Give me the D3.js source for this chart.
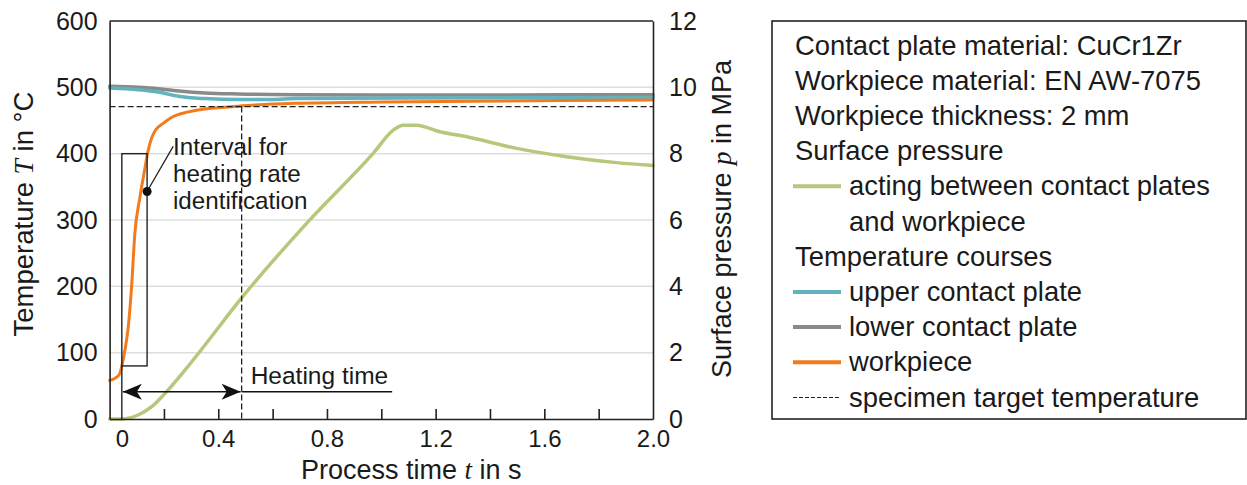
<!DOCTYPE html>
<html lang="en">
<head>
<meta charset="UTF-8">
<title>Heating process</title>
<script src="https://cdn.jsdelivr.net/npm/d3@7"></script>
<style>
  body { margin: 0; background: #fff; }
  svg { font-family: "Liberation Sans", Arial, sans-serif; fill: #1a1a1a; }
  .grid line { stroke: #dedede; stroke-width: 1.5px; }
  .curve { fill: none; stroke-linejoin: round; stroke-linecap: round; }
  .axis path { stroke: #222; stroke-width: 1.6px; }
  .axis line { stroke: #222; stroke-width: 1.6px; }
  .axis text { fill: #1a1a1a; font-family: "Liberation Sans", Arial, sans-serif; }
  .var { font-family: "Liberation Serif", serif; font-style: italic; }
</style>
</head>
<body>
<svg width="1247" height="485"></svg>
<script>
// process time in s (axis coordinates), temperatures in °C, pressure in MPa
var tWork   = [0, 0.026, 0.038, 0.045, 0.057, 0.069, 0.081, 0.093, 0.111, 0.130, 0.142, 0.155, 0.170, 0.198, 0.229, 0.290, 0.351, 0.474, 0.597, 0.682, 1.014, 1.658, 2.0];
var workpiece = [58, 63, 69, 80, 105, 140, 200, 280, 333, 378, 405, 424, 436, 446, 455, 463, 467.5, 471.5, 475, 476, 478, 480, 481];

var tUpper = [0, 0.106, 0.179, 0.253, 0.351, 0.474, 0.597, 0.682, 1.07, 2.0];
var upperPlate = [499, 496.5, 493, 486.5, 483, 481.5, 481.5, 483, 484, 484.5];

var tLower = [0, 0.106, 0.179, 0.265, 0.351, 0.474, 0.682, 1.2, 2.0];
var lowerPlate = [501.5, 500, 498, 494, 491.5, 490, 489, 488.5, 489];

var tPress = [0, 0.045, 0.105, 0.155, 0.198, 0.278, 0.351, 0.48, 0.725, 0.97, 1.044, 1.08, 1.13, 1.216, 1.314, 1.498, 1.682, 1.866, 2.0];
var pressure = [0, 0, 0.12, 0.37, 0.72, 1.48, 2.23, 3.59, 5.9, 8.01, 8.71, 8.86, 8.86, 8.66, 8.51, 8.16, 7.91, 7.73, 7.64];

var targetTemp = 471;
var tZero = 0.045;        // process start marker
var heatEnd = 0.486;      // end of heating time
var heatLineEnd = 1.04;
var intervalEnd = 0.138;
var intervalTemps = [80, 400];

var tempTicks = [0, 100, 200, 300, 400, 500, 600];
var gridTemps = [100, 200, 300, 400, 500];
var pressTicks = [0, 2, 4, 6, 8, 10, 12];
var timeMinor = [0.2, 0.4, 0.6, 0.8, 1.0, 1.2, 1.4, 1.6, 1.8];
var timeLabelPos = [tZero, 0.4, 0.8, 1.2, 1.6, 2.0];
var timeLabels = ["0", "0.4", "0.8", "1.2", "1.6", "2.0"];

var legendRows = [
  ["Contact plate material: CuCr1Zr", null],
  ["Workpiece material: EN AW-7075", null],
  ["Workpiece thickness: 2 mm", null],
  ["Surface pressure", null],
  ["acting between contact plates", "pressure"],
  ["and workpiece", "blank"],
  ["Temperature courses", null],
  ["upper contact plate", "upper"],
  ["lower contact plate", "lower"],
  ["workpiece", "work"],
  ["specimen target temperature", "target"]
];

var colors = { pressure: "#b6c87c", upper: "#62b3bf", lower: "#8a8a8a", work: "#f27b1e" };

var svg = d3.select("svg");
var pL = 109.6, pR = 653, pT = 21, pB = 419;

var x = d3.scaleLinear().domain([0, 2]).range([pL, pR]);
var yT = d3.scaleLinear().domain([0, 600]).range([pB, pT]);
var yP = d3.scaleLinear().domain([0, 12]).range([pB, pT]);

// grid
svg.append("g").attr("class", "grid")
  .selectAll("line").data(gridTemps).enter().append("line")
  .attr("x1", pL).attr("x2", pR)
  .attr("y1", function(d) { return yT(d); }).attr("y2", function(d) { return yT(d); });

// curves
function series(ts, vs, ys) {
  return d3.line().curve(d3.curveMonotoneX)
    .x(function(d, i) { return x(ts[i]); })
    .y(function(d) { return ys(d); })(vs);
}

svg.append("path").attr("class", "curve")
  .attr("d", series(tPress, pressure, yP))
  .attr("stroke", colors.pressure).attr("stroke-width", 3.5);

svg.append("path").attr("class", "curve")
  .attr("d", series(tLower, lowerPlate, yT))
  .attr("stroke", colors.lower).attr("stroke-width", 3.5);

svg.append("path").attr("class", "curve")
  .attr("d", series(tUpper, upperPlate, yT))
  .attr("stroke", colors.upper).attr("stroke-width", 3.5);

svg.append("path").attr("class", "curve")
  .attr("d", series(tWork, workpiece, yT))
  .attr("stroke", colors.work).attr("stroke-width", 3);

// target temperature
svg.append("line")
  .attr("x1", pL).attr("x2", pR)
  .attr("y1", yT(targetTemp)).attr("y2", yT(targetTemp))
  .attr("stroke", "#222").attr("stroke-width", 1.3).attr("stroke-dasharray", "6,3");
svg.append("line")
  .attr("x1", x(heatEnd)).attr("x2", x(heatEnd))
  .attr("y1", yT(targetTemp)).attr("y2", pB)
  .attr("stroke", "#222").attr("stroke-width", 1.3).attr("stroke-dasharray", "6,3");

// interval box
svg.append("rect")
  .attr("x", x(tZero)).attr("y", yT(intervalTemps[1]))
  .attr("width", x(intervalEnd) - x(tZero))
  .attr("height", yT(intervalTemps[0]) - yT(intervalTemps[1]))
  .attr("fill", "none").attr("stroke", "#222").attr("stroke-width", 1.4);
svg.append("line")
  .attr("x1", x(tZero)).attr("x2", x(tZero))
  .attr("y1", yT(intervalTemps[0])).attr("y2", pB)
  .attr("stroke", "#222").attr("stroke-width", 1.4);

svg.append("line")
  .attr("x1", x(intervalEnd)).attr("y1", yT(343))
  .attr("x2", x(0.234)).attr("y2", yT(411))
  .attr("stroke", "#222").attr("stroke-width", 1.3);
svg.append("circle")
  .attr("cx", x(intervalEnd)).attr("cy", yT(343)).attr("r", 4.5).attr("fill", "#111");

var note = svg.append("text").attr("x", 173).attr("font-size", 24.2);
["Interval for", "heating rate", "identification"].forEach(function(s, i) {
  note.append("tspan").attr("x", 173).attr("y", 155 + i * 27).text(s);
});

// heating time arrow
var defs = svg.append("defs");
defs.append("marker").attr("id", "arr")
  .attr("viewBox", "-20 -10 22 20").attr("refX", 0).attr("refY", 0)
  .attr("markerWidth", 22).attr("markerHeight", 20)
  .attr("markerUnits", "userSpaceOnUse").attr("orient", "auto-start-reverse")
  .append("path").attr("d", "M0,0 L-19,-8 L-14,0 L-19,8 Z").attr("fill", "#111");

svg.append("line")
  .attr("x1", x(tZero) + 1).attr("x2", x(heatEnd) - 1)
  .attr("y1", yT(41)).attr("y2", yT(41))
  .attr("stroke", "#111").attr("stroke-width", 1.6)
  .attr("marker-start", "url(#arr)").attr("marker-end", "url(#arr)");
svg.append("line")
  .attr("x1", x(heatEnd)).attr("x2", x(heatLineEnd))
  .attr("y1", yT(41)).attr("y2", yT(41))
  .attr("stroke", "#111").attr("stroke-width", 1.6);
svg.append("text").attr("x", x(heatEnd) + 9).attr("y", 384)
  .attr("font-size", 24.5).text("Heating time");

// axes
svg.append("line").attr("x1", pL).attr("x2", pR).attr("y1", pT).attr("y2", pT)
  .attr("stroke", "#222").attr("stroke-width", 1.6);

svg.append("g").attr("class", "axis")
  .attr("transform", "translate(" + pL + ",0)")
  .call(d3.axisLeft(yT).tickValues(tempTicks).tickSize(0).tickPadding(12))
  .selectAll("text").attr("font-size", 25);

svg.append("g").attr("class", "axis")
  .attr("transform", "translate(" + pR + ",0)")
  .call(d3.axisRight(yP).tickValues(pressTicks).tickSize(0).tickPadding(16))
  .selectAll("text").attr("font-size", 25);

svg.append("g").attr("class", "axis")
  .attr("transform", "translate(0," + pB + ")")
  .call(d3.axisBottom(x).tickValues(timeMinor).tickSizeInner(-10).tickSizeOuter(0).tickFormat(""));

var xl = svg.append("g").attr("class", "axis")
  .attr("transform", "translate(0," + pB + ")")
  .call(d3.axisBottom(x).tickValues(timeLabelPos).tickSize(0).tickPadding(11)
    .tickFormat(function(d, i) { return timeLabels[i]; }));
xl.select(".domain").remove();
xl.selectAll("text").attr("font-size", 24);

// axis titles
var xt = svg.append("text").attr("x", 301).attr("y", 479).attr("font-size", 27);
xt.append("tspan").text("Process time ");
xt.append("tspan").attr("class", "var").text("t");
xt.append("tspan").text(" in s");

var lt = svg.append("text").attr("transform", "translate(33,214) rotate(-90)")
  .attr("text-anchor", "middle").attr("font-size", 27.5);
lt.append("tspan").text("Temperature ");
lt.append("tspan").attr("class", "var").text("T");
lt.append("tspan").text(" in °C");

var rt = svg.append("text").attr("transform", "translate(731,219) rotate(-90)")
  .attr("text-anchor", "middle").attr("font-size", 27);
rt.append("tspan").text("Surface pressure ");
rt.append("tspan").attr("class", "var").text("p");
rt.append("tspan").text(" in MPa");

// legend
svg.append("rect").attr("x", 772).attr("y", 21).attr("width", 474).attr("height", 398)
  .attr("fill", "none").attr("stroke", "#222").attr("stroke-width", 1.6);

var lg = svg.append("g");
legendRows.forEach(function(r, i) {
  var base = 54.5 + i * 35.2;
  var tx = r[1] ? 849 : 795;
  lg.append("text").attr("x", tx).attr("y", base).attr("font-size", 27.4).text(r[0]);
  if (r[1] && r[1] !== "blank") {
    var ln = lg.append("line").attr("x1", 793).attr("x2", 841)
      .attr("y1", base - 9).attr("y2", base - 9);
    if (r[1] === "target") {
      ln.attr("stroke", "#222").attr("stroke-width", 1.2).attr("stroke-dasharray", "4,2");
    } else {
      ln.attr("stroke", colors[r[1]]).attr("stroke-width", 4);
    }
  }
});
</script>
</body>
</html>
